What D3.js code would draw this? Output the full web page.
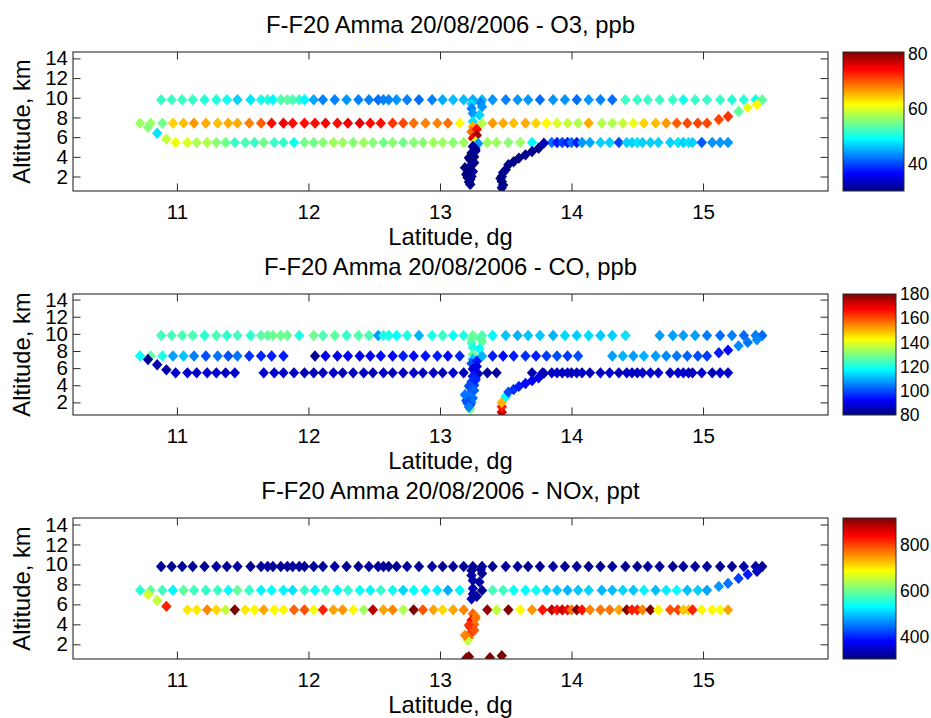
<!DOCTYPE html>
<html><head><meta charset="utf-8">
<script src="https://cdn.jsdelivr.net/npm/d3@7"></script>
<style>
body{margin:0;background:#fff}
text{font-family:"Liberation Sans",Arial,Helvetica,sans-serif;fill:#000}
</style>
</head><body>
<svg id="chart" width="931" height="718"></svg>
<script>
// ---------------- DATA ----------------
const titles = ["F-F20 Amma 20/08/2006 - O3, ppb", "F-F20 Amma 20/08/2006 - CO, ppb", "F-F20 Amma 20/08/2006 - NOx, ppt"];
const species = ["O3", "CO", "NOx"];
const latTicks = [11, 12, 13, 14, 15];
const altTicks = [2, 4, 6, 8, 10, 12, 14];
const latDomain = [10.21, 15.95];
const altDomain = [0.53, 14.65];
const o3Range = [30.3, 80.8], o3Ticks = [40, 60, 80];
const coRange = [80, 180], coTicks = [80, 100, 120, 140, 160, 180];
const noxRange = [305, 915], noxTicks = [400, 600, 800];

// upper level leg (~9.8 km)
const topAlt = 9.8;
const topLat = [10.88,10.96,11.04,11.12,11.21,11.30,11.38,11.46,11.56,11.64, 11.69,11.73,11.79,11.84,11.88,11.93,11.97,12.04,12.11,12.20, 12.29,12.38,12.46,12.53,12.57,12.61,12.67,12.75,12.84,12.94, 13.02,13.10,13.18,13.25,13.32,13.40,13.50,13.59,13.67,13.76, 13.86,13.95,14.04,14.13,14.22,14.31,14.41,14.50,14.58,14.67, 14.77,14.85,14.94,15.03,15.13,15.22,15.31,15.40,15.45];
const topO3 = [52,52,52,52,51,51,50,47,48,50, 51,49,53,54,53,52,49,45,43,43, 44,43,43,42,43,43,44,43,42,43, 45,46,46,45,46,44,43,44,44,42, 44,44,42,44,43,42,52,52,52,52, 52,50,52,52,52,51,51,50,54];
const topCO = [124,124,125,125,122,125,122,124,122,126, 127,128,128,128,null,120,null,128,125,127, 123,126,125,108,120,120,118,120,110,120, 123,118,120,128,125,117,112,110,112,112, 110,114,113,114,112,113,115,null,null,108, 108,108,108,105,103,105,103,105,103];
const topNOx = [320,318,322,320,318,325,320,322,318,320, 325,322,318,320,325,320,318,322,320,325, 318,320,322,325,320,318,320,322,318,325, 320,318,322,320,325,318,320,322,318,320, 325,320,322,318,320,325,320,318,322,320, 318,325,320,322,318,320,330,325,320];

// middle level leg (~7.4 km)
const midAlt = 7.42;
const midLat = [10.72,10.80,10.89,10.97,11.05,11.13,11.22,11.31,11.39,11.46, 11.55,11.64,11.72,11.81,11.88,11.97,12.05,12.13,12.22,12.30, 12.39,12.47,12.55,12.64,12.72,12.80,12.89,12.98,13.06,13.15, 13.40,13.48,13.56,13.65,13.73,13.81,13.89,13.97,14.05,14.13, 14.23,14.31,14.39,14.47,14.55,14.64,14.72,14.80,14.88,14.96, 15.03];
const midO3 = [57,57,55,64,65,67,66,65,66,66, 68,70,74,75,74,74,74,75,74,75, 76,74,74,72,71,69,68,68,69,62, 67,66,65,66,64,62,60,59,58,66, 58,58,59,61,64,65,67,70,71,71, 71];
const midCO = [118,127,120,108,112,105,100,104,100,104, 97,96,95,95,null,null,82,90,90,92, 90,92,93,92,95,93,94,95,93,96, 95,93,95,97,95,98,100,98,100,null, null,108,110,108,110,108,106,104,102,100, 98];
const midNOx = [560,590,570,530,590,570,565,570,535,595, 565,530,535,530,515,565,535,565,530,560, 540,530,565,540,510,535,530,525,485,530, 575,570,540,535,540,510,500,490,500,510, 490,495,510,500,530,495,525,535,495,505, 480];

// climb at the eastern end (middle -> upper level)
const climbLat = [15.12,15.19,15.27,15.34,15.41];
const climbAlt = [7.8,8.1,8.6,9.0,9.3];
const climbO3 = [71,72,54,61,62];
const climbCO = [95,93,106,104,106];
const climbNOx = [470,450,420,395,345];

// turn at the western end (middle -> lower level)
const westLat = [10.78,10.85,10.92];
const westAlt = [7.0,6.4,5.8];
const westO3 = [56,48,59];
const westCO = [82,85,84];
const westNOx = [660,650,820];

// lower level leg (~5.45 km)
const lowAlt = 5.45;
const lowLat = [10.99,11.08,11.15,11.23,11.30,11.37,11.44,11.52,11.59,11.66, 11.74,11.81,11.89,11.97,12.04,12.11,12.19,12.26,12.34,12.42, 12.49,12.57,12.64,12.72,12.80,12.87,12.95,13.02,13.10,13.18, 13.36,13.43,13.52,13.61,13.70,13.78,13.85,13.89,13.93,13.97, 14.00,14.04,14.08,14.14,14.22,14.29,14.36,14.42,14.46,14.50, 14.54,14.60,14.66,14.75,14.81,14.85,14.89,14.92,14.99,15.07, 15.13,15.19];
const lowO3 = [61,60,58,58,56,55,52,53,52,55, 52,52,50,55,55,56,57,57,56,57, 56,55,56,55,56,56,57,57,56,57, 57,57,56,57,49,null,42,38,40,38, 42,38,44,45,47,47,40,47,47,48, 47,47,47,47,48,47,48,47,41,44, 44,44];
const lowCO = [88,88,88,88,88,86,88,null,null,88, 88,87,87,85,86,86,87,86,86,87, 85,87,86,86,87,86,86,86,88,86, 83,83,null,null,84,85,86,87,86,87, 86,86,87,86,87,88,86,87,87,86, 87,88,87,86,88,88,87,86,88,86, 88,87];
const lowNOx = [null,700,700,760,710,650,920,700,690,740, 690,690,780,790,680,820,740,750,690,630, 880,740,760,640,920,790,740,710,740,760, 900,650,920,690,750,830,880,830,870,840, 770,920,830,760,770,770,740,920,820,820, 760,920,690,790,800,720,720,820,690,690, 680,740];

// descent profile near 13.25 N
const descentLat = [13.24,13.31,13.24,13.32,13.25,13.30,13.25,13.32,13.25,13.24, 13.28,13.28,13.25,13.27,13.29,13.25,13.27,13.24,13.26,13.23, 13.24,13.22,13.21,13.20,13.24,13.23,13.23, 13.27,13.22,13.26,13.19,13.25,13.21,13.22];
const descentAlt = [9.4,9.5,8.9,9.1,8.4,8.25,7.6,7.4,7.05,6.55, 6.8,6.2,5.9,5.55,5.35,5.05,4.8,4.4,4.0,3.7, 3.2,2.7,2.4,2.2,2.0,1.7,1.2, 4.6,3.9,3.4,2.9,2.5,1.9,1.45];
const descentO3 = [47,43,43,44,44,47,48,58,66,69, 74,79,76,61,44,31,32,31,30,30, 31,31,30,30,31,31,31, 31,30,31,30,31,30,31];
const descentCO = [128,125,125,127,120,118,128,110,112,100, 95,90,88,92,88,95,96,98,100,102, 104,105,103,100,106,100,130, 96,100,102,104,103,100,105];
const descentNOx = [320,320,325,320,330,325,330,320,330,335, 320,null,null,null,null,780,760,840,780,800, 820,780,650,null,null,null,null, 770,810,790,760,null,null,null];

// ascent profile near 13.5 N
const ascentLat = [13.47,13.47,13.47,13.48,13.50,13.52,13.56,13.60,13.65,13.70,13.75,13.79, 13.48,13.46];
const ascentAlt = [0.85,1.5,2.0,2.4,2.7,3.2,3.5,3.87,4.2,4.54,4.88,5.39, 1.15,1.8];
const ascentO3 = [31,31,30,31,31,31,31,30,31,31,31,33, 31,30];
const ascentCO = [172,165,150,null,118,100,97,95,93,92,90,85, null,null];
const ascentNOx = [920,null,null,null,null,null,null,null,null,null,null,null, null,null];

// near-surface NOx samples
const surfaceLat = [13.20,13.22,13.38];
const surfaceAlt = [0.6,0.75,0.65];
const surfaceNOx = [920,920,920];

// ---------------- BUILD ----------------
const segments = [
  {lat: topLat, alt: topAlt, O3: topO3, CO: topCO, NOx: topNOx},
  {lat: midLat, alt: midAlt, O3: midO3, CO: midCO, NOx: midNOx},
  {lat: climbLat, alt: climbAlt, O3: climbO3, CO: climbCO, NOx: climbNOx},
  {lat: westLat, alt: westAlt, O3: westO3, CO: westCO, NOx: westNOx},
  {lat: lowLat, alt: lowAlt, O3: lowO3, CO: lowCO, NOx: lowNOx},
  {lat: ascentLat, alt: ascentAlt, O3: ascentO3, CO: ascentCO, NOx: ascentNOx},
  {lat: descentLat, alt: descentAlt, O3: descentO3, CO: descentCO, NOx: descentNOx},
  {lat: surfaceLat, alt: surfaceAlt, O3: null, CO: null, NOx: surfaceNOx}
];
function pointsFor(key) {
  const out = [];
  segments.forEach(s => {
    const vals = s[key];
    if (!vals) return;
    s.lat.forEach((la, i) => {
      const v = vals[i];
      if (v === null || v === undefined) return;
      out.push({lat: la, alt: Array.isArray(s.alt) ? s.alt[i] : s.alt, v: v});
    });
  });
  return out;
}

function jet(t) {
  t = Math.max(0, Math.min(1, t));
  const f = x => Math.max(0, Math.min(1, x));
  return d3.rgb(255 * f(1.5 - Math.abs(4 * t - 3)), 255 * f(1.5 - Math.abs(4 * t - 2)), 255 * f(1.5 - Math.abs(4 * t - 1))).formatHex();
}

const svg = d3.select("#chart");
svg.append("rect").attr("width", 931).attr("height", 718).attr("fill", "#fff");

const L = 73, R = 828, CBL = 843, TICK = 7.5;
const panels = [
  {top: 52, bottom: 191, cbRight: 904, range: o3Range, ticks: o3Ticks},
  {top: 294, bottom: 415, cbRight: 896, range: coRange, ticks: coTicks},
  {top: 518, bottom: 659, cbRight: 896, range: noxRange, ticks: noxTicks}
];
const axisColor = "#2a2a2a";
const defs = svg.append("defs");
const grad = defs.append("linearGradient").attr("id", "jetgrad").attr("x1", 0).attr("y1", 1).attr("x2", 0).attr("y2", 0);
d3.range(0, 1.0001, 1 / 64).forEach(t => grad.append("stop").attr("offset", t).attr("stop-color", jet(t)));

const diamond = "M0,-5.7L5.2,0L0,5.7L-5.2,0Z";
const FONT = '"Liberation Sans",Arial,Helvetica,sans-serif';

panels.forEach((p, k) => {
  const key = species[k];
  const x = d3.scaleLinear().domain(latDomain).range([L, R]);
  const y = d3.scaleLinear().domain(altDomain).range([p.bottom, p.top]);
  const color = d3.scaleSequential(jet).domain(p.range).clamp(true);
  const g = svg.append("g");

  const clipId = "clip" + k;
  defs.append("clipPath").attr("id", clipId).append("rect")
    .attr("x", L).attr("y", p.top).attr("width", R - L).attr("height", p.bottom - p.top);

  g.append("g").attr("clip-path", `url(#${clipId})`)
    .selectAll("path").data(pointsFor(key)).join("path")
    .attr("d", diamond)
    .attr("transform", d => `translate(${x(d.lat)},${y(d.alt)})`)
    .attr("fill", d => color(d.v));

  const fmt = d3.format("d");
  const ax = [
    g.append("g").attr("transform", `translate(0,${p.bottom})`).call(d3.axisBottom(x).tickValues(latTicks).tickSize(-TICK).tickPadding(13).tickFormat(fmt)),
    g.append("g").attr("transform", `translate(0,${p.top})`).call(d3.axisTop(x).tickValues(latTicks).tickSize(-TICK).tickFormat("")),
    g.append("g").attr("transform", `translate(${L},0)`).call(d3.axisLeft(y).tickValues(altTicks).tickSize(-TICK).tickPadding(5).tickFormat(fmt)),
    g.append("g").attr("transform", `translate(${R},0)`).call(d3.axisRight(y).tickValues(altTicks).tickSize(-TICK).tickFormat(""))
  ];
  ax.forEach(a => {
    a.select(".domain").remove();
    a.selectAll("line").attr("stroke", axisColor);
    a.selectAll("text").attr("font-size", "20.5px").attr("fill", "#000").attr("font-family", FONT);
  });
  g.append("rect").attr("x", L).attr("y", p.top).attr("width", R - L).attr("height", p.bottom - p.top)
    .attr("fill", "none").attr("stroke", axisColor).attr("stroke-width", 1.1);

  g.append("text").attr("x", (L + R) / 2).attr("y", p.top - 19).attr("text-anchor", "middle")
    .attr("font-size", "23.8px").text(titles[k]);
  g.append("text").attr("x", (L + R) / 2).attr("y", p.bottom + 54).attr("text-anchor", "middle")
    .attr("font-size", "23.8px").text("Latitude, dg");
  g.append("text").attr("transform", `translate(30,${(p.top + p.bottom) / 2}) rotate(-90)`)
    .attr("text-anchor", "middle").attr("font-size", "23.8px").text("Altitude, km");

  const cy = d3.scaleLinear().domain(p.range).range([p.bottom, p.top]);
  g.append("rect").attr("x", CBL).attr("y", p.top).attr("width", p.cbRight - CBL).attr("height", p.bottom - p.top)
    .attr("fill", "url(#jetgrad)").attr("stroke", axisColor).attr("stroke-width", 1);
  g.selectAll("text.cb").data(p.ticks).join("text").attr("class", "cb")
    .attr("x", p.cbRight + 4).attr("y", d => cy(d)).attr("dy", "0.35em")
    .attr("font-size", "17.5px").text(d => d);
});
</script>
</body></html>
